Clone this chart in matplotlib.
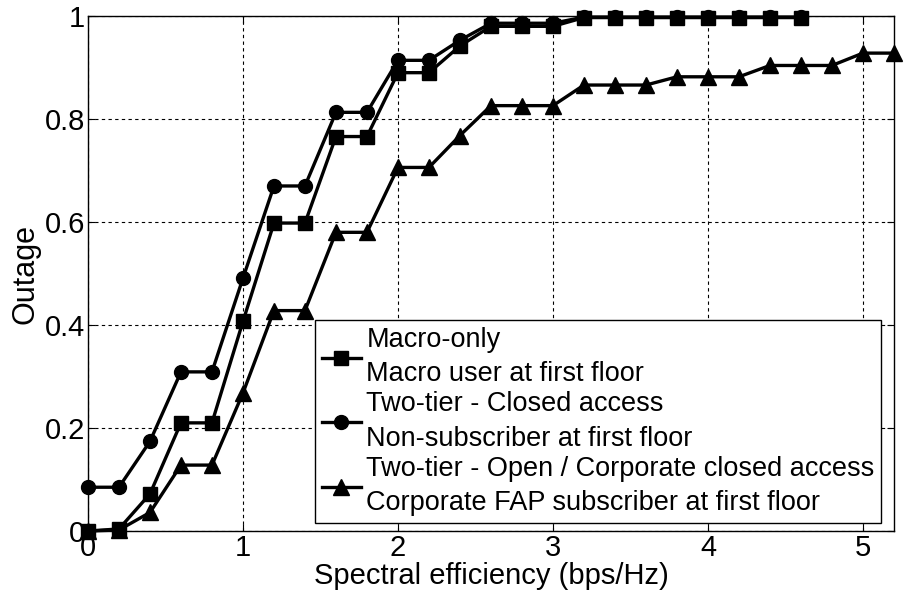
import numpy as np
import matplotlib
matplotlib.use('Agg')
import matplotlib.pyplot as plt

plt.rcParams['font.family'] = ['Liberation Sans', 'DejaVu Sans']

# spectral efficiency steps (bps/Hz)
x_macro = [0, 0.2, 0.4, 0.6, 0.8, 1.0, 1.2, 1.4, 1.6, 1.8, 2.0, 2.2, 2.4, 2.6, 2.8, 3.0,
           3.2, 3.4, 3.6, 3.8, 4.0, 4.2, 4.4, 4.6]
y_macro = [0.0, 0.004, 0.072, 0.21, 0.21, 0.407, 0.598, 0.598, 0.766, 0.766, 0.890, 0.890,
           0.942, 0.980, 0.980, 0.980, 0.997, 0.997, 0.997, 0.997, 0.997, 0.997, 0.997, 0.997]

x_closed = x_macro
y_closed = [0.085, 0.085, 0.174, 0.309, 0.309, 0.491, 0.670, 0.670, 0.813, 0.813, 0.914, 0.914,
            0.953, 0.986, 0.986, 0.986, 0.998, 0.998, 0.998, 0.998, 0.998, 0.998, 0.998, 0.998]

x_open = [0, 0.2, 0.4, 0.6, 0.8, 1.0, 1.2, 1.4, 1.6, 1.8, 2.0, 2.2, 2.4, 2.6, 2.8, 3.0,
          3.2, 3.4, 3.6, 3.8, 4.0, 4.2, 4.4, 4.6, 4.8, 5.0, 5.2]
y_open = [0.0, 0.002, 0.036, 0.128, 0.128, 0.268, 0.428, 0.428, 0.580, 0.580, 0.706, 0.706,
          0.768, 0.826, 0.826, 0.826, 0.866, 0.866, 0.866, 0.882, 0.882, 0.882, 0.904, 0.904,
          0.904, 0.928, 0.928]

labels = ['Macro-only\nMacro user at first floor',
          'Two-tier - Closed access\nNon-subscriber at first floor',
          'Two-tier - Open / Corporate closed access\nCorporate FAP subscriber at first floor']

fig = plt.figure(figsize=(9.05, 6.05), dpi=100)
ax = fig.add_axes([0.0972, 0.1223, 0.8906, 0.8512])

ax.plot(x_macro, y_macro, '-s', color='k', lw=2.4, ms=9.5, clip_on=False, label=labels[0], zorder=3)
ax.plot(x_closed, y_closed, '-o', color='k', lw=2.4, ms=10, clip_on=False, label=labels[1], zorder=3)
ax.plot(x_open, y_open, '-^', color='k', lw=2.4, ms=11, clip_on=False, label=labels[2], zorder=3)

ax.set_xlim(0, 5.2)
ax.set_ylim(0, 1)
ax.set_xticks([0, 1, 2, 3, 4, 5])
ax.set_yticks([0, 0.2, 0.4, 0.6, 0.8, 1])
ax.set_yticklabels(['0', '0.2', '0.4', '0.6', '0.8', '1'])
ax.tick_params(direction='in', top=True, right=True, labelsize=21, length=5, pad=2)
ax.grid(True, color='k', linestyle=(0, (3, 3)), linewidth=0.8)
for s in ax.spines.values():
    s.set_linewidth(1.0)

ax.set_xlabel('Spectral efficiency (bps/Hz)', fontsize=21, labelpad=0)
ax.set_ylabel('Outage', fontsize=22, labelpad=3)

leg = ax.legend(loc='lower left', bbox_to_anchor=(0.2816, 0.0155), borderaxespad=0,
                fontsize=19.5, frameon=True, fancybox=False, framealpha=1,
                handlelength=1.45, handletextpad=0.2, labelspacing=0.15,
                borderpad=0.25, edgecolor='k')
leg.get_frame().set_linewidth(1.0)
for t in leg.get_texts():
    t.set_linespacing(1.42)

fig.savefig('out.png', dpi=100)
